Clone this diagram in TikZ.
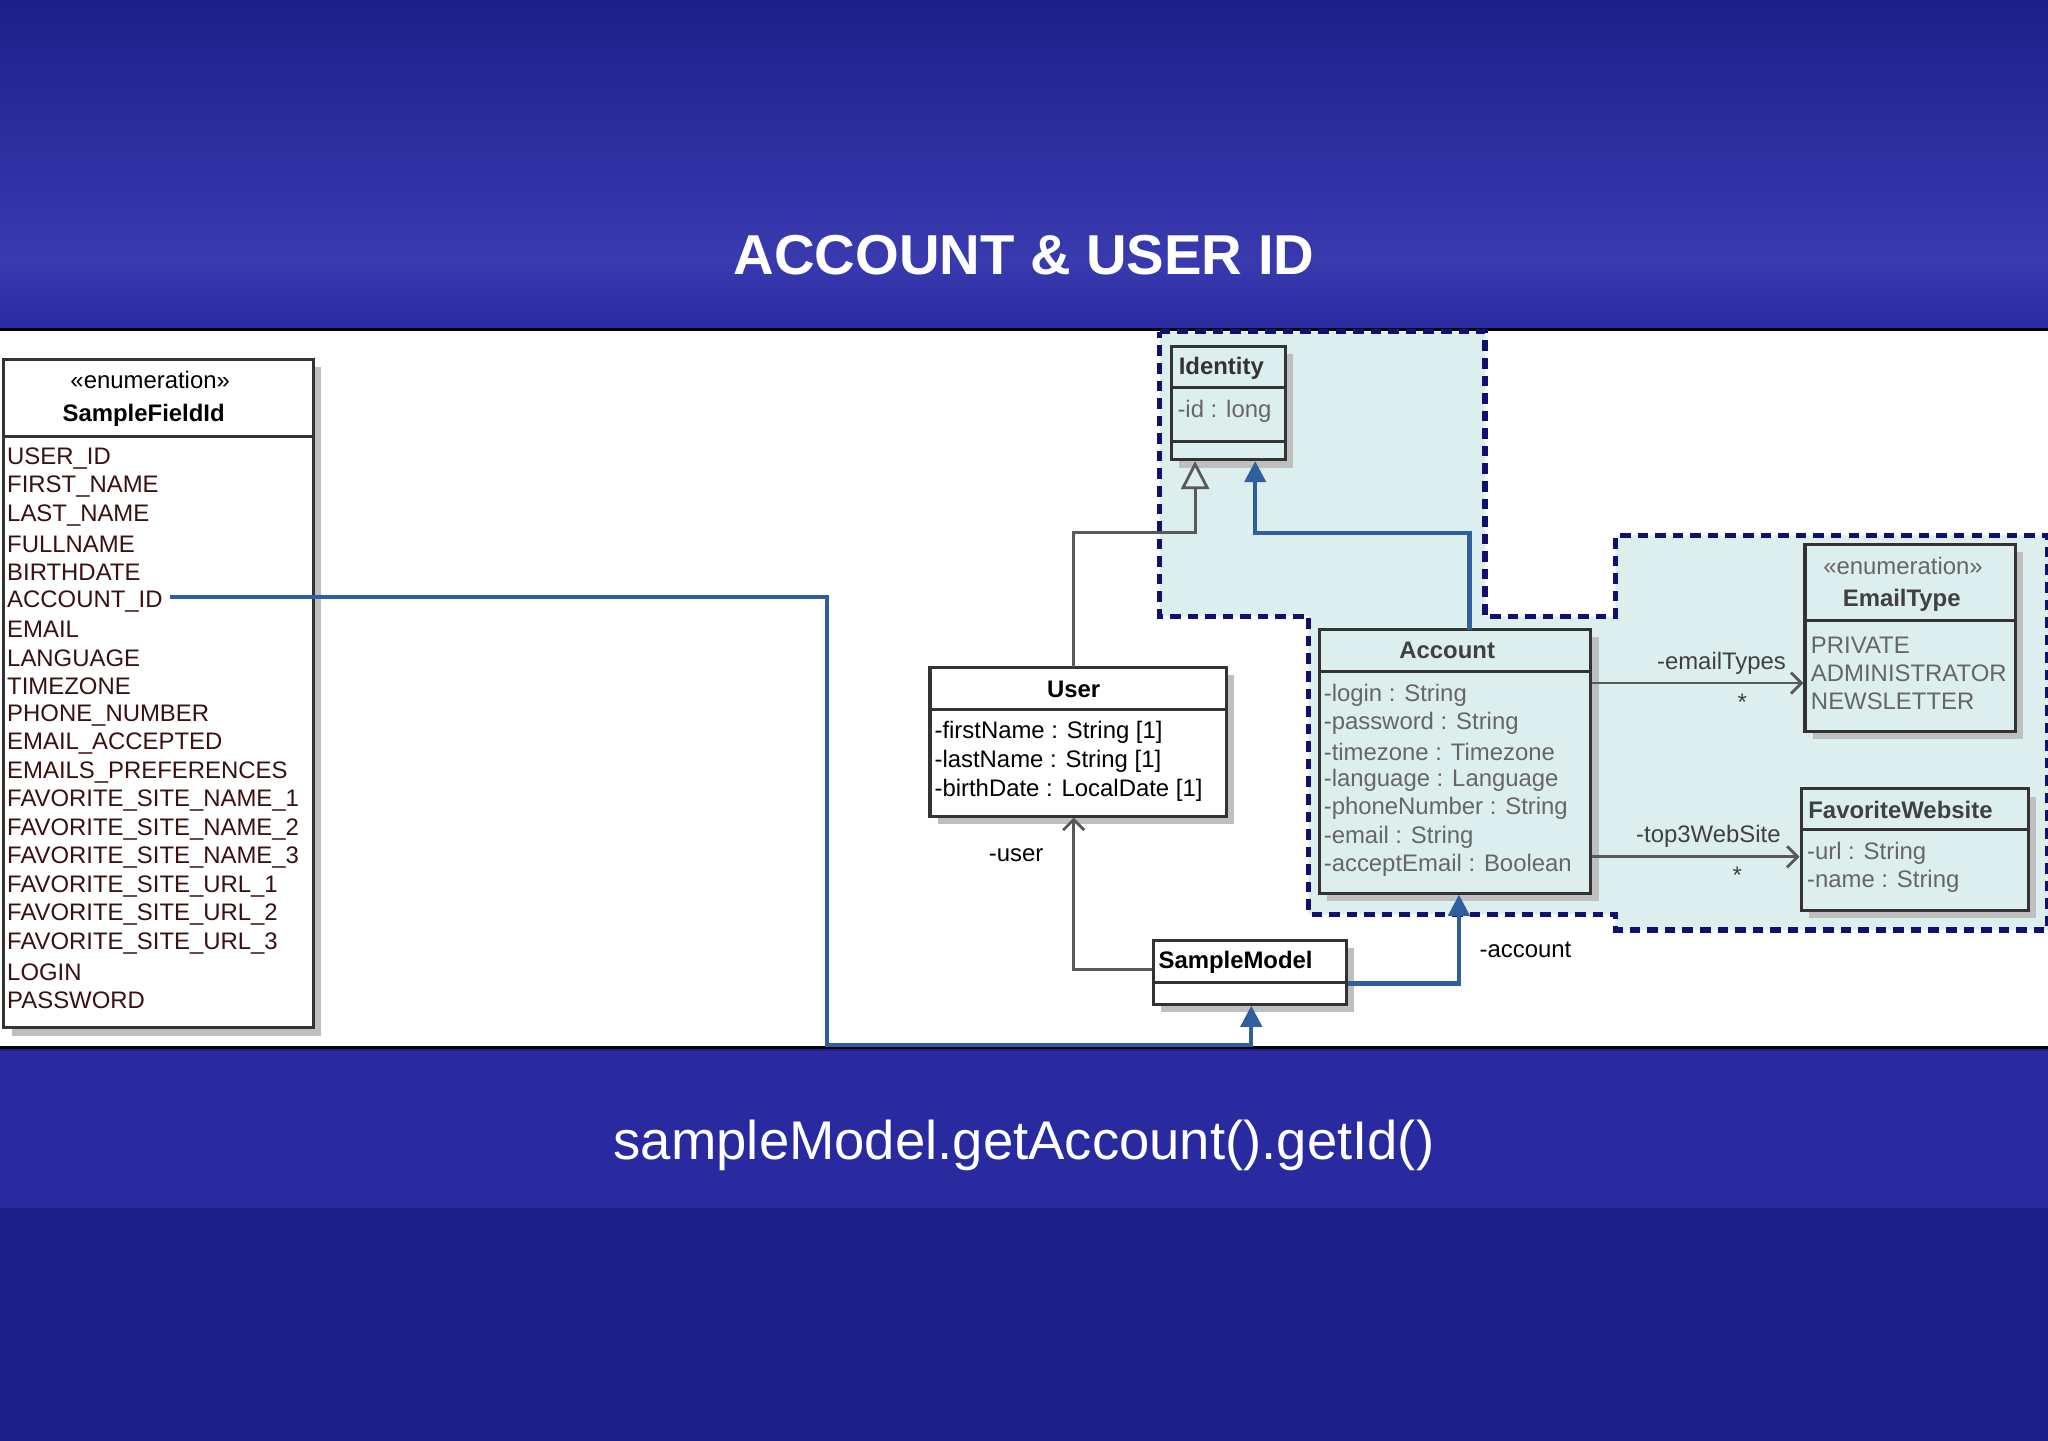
\documentclass[tikz,border=0pt]{standalone}
\usepackage{fontspec}
\setmainfont{Liberation Sans}
\usetikzlibrary{fit,arrows.meta}
\definecolor{bgA}{HTML}{3A3AB0}
\definecolor{bgB}{HTML}{1E1E8A}
\definecolor{bandc}{HTML}{2A2AA0}
\definecolor{teal}{HTML}{DCEEEE}
\definecolor{navy}{HTML}{101070}
\definecolor{lnk}{HTML}{2F5F9F}
\definecolor{txt}{HTML}{3A1010}
\tikzset{
  box/.style={draw=black!80,line width=0.9pt,inner sep=0pt},
  shd/.style={fill=black!25,draw=none},
  t/.style={font=\fontsize{6.8}{7}\selectfont,text=txt,inner sep=0pt},
  hd/.style={font=\bfseries\fontsize{6.8}{7}\selectfont,inner sep=0pt},
  blue/.style={draw=lnk,line width=1.2pt,-{Triangle[length=6pt,width=6pt]}},
  gry/.style={draw=black!65,line width=0.8pt},
}
\begin{document}
\begin{tikzpicture}[x=0.01306cm,y=-0.01306cm]
\useasboundingbox (0,0) rectangle (1568,1103);

% background
\fill[bgB] (0,0) rectangle (1568,1103);
\shade[top color=bgB,bottom color=bgA] (0,0) rectangle (1568,200);
\shade[top color=bgA,bottom color=bandc] (0,200) rectangle (1568,252);
\fill[bandc] (0,805) rectangle (1568,925);
\node[text=white,font=\bfseries\fontsize{16}{18}\selectfont] (title) at (784,195) {ACCOUNT \& USER ID};
\node[text=white,font=\fontsize{15.5}{18}\selectfont] (sub) at (784,877) {sampleModel.getAccount().getId()};

% panel
\fill[white] (0,252) rectangle (1568,802);
\draw[black,line width=0.8pt] (0,252) -- (1568,252);
\draw[black,line width=0.8pt] (0,802) -- (1568,802);

% package region
\draw[navy,fill=teal,line width=1.5pt,dash pattern=on 3pt off 2pt]
  (888,254) -- (1137,254) -- (1137,472) -- (1237,472) -- (1237,410) -- (1568,410)
  -- (1568,712) -- (1237,712) -- (1237,700) -- (1002,700) -- (1002,472) -- (888,472) -- cycle;

% shadows
\fill[shd] (9,281) rectangle (246,793);
\fill[shd] (903,271) rectangle (990,358);
\fill[shd] (718,517) rectangle (945,631);
\fill[shd] (1016,488) rectangle (1224,690);
\fill[shd] (1388,423) rectangle (1549,566);
\fill[shd] (1385,610) rectangle (1559,703);
\fill[shd] (889,726) rectangle (1037,775);

% SampleFieldId
\node[box,fill=white,fit={(3,275)(240,787)}] (sfi) {};
\draw[box] (3,334) -- (240,334);
\node[t,text=black] at (115,291) {«enumeration»};
\node[hd] at (110,318) {SampleFieldId};
\foreach \s [count=\i from 0] in {USER\_ID,FIRST\_NAME,LAST\_NAME,FULLNAME,BIRTHDATE,
  ACCOUNT\_ID,EMAIL,LANGUAGE,TIMEZONE,PHONE\_NUMBER,EMAIL\_ACCEPTED,EMAILS\_PREFERENCES,
  FAVORITE\_SITE\_NAME\_1,FAVORITE\_SITE\_NAME\_2,FAVORITE\_SITE\_NAME\_3,
  FAVORITE\_SITE\_URL\_1,FAVORITE\_SITE\_URL\_2,FAVORITE\_SITE\_URL\_3,LOGIN,PASSWORD}
  \node[t,anchor=west] (f\i) at (5,351+21.84*\i) {\s};

% Identity
\node[box,fill=teal,fit={(897,265)(984,352)}] (idn) {};
\draw[box] (897,297) -- (984,297);
\draw[box] (897,338) -- (984,338);
\node[hd,anchor=west,text=black!80] at (902,282) {Identity};
\node[t,anchor=west,text=black!60] at (901,315) {-id : long};

% User
\node[box,fill=white,fit={(712,511)(939,625)}] (usr) {};
\draw[box] (712,543) -- (939,543);
\node[hd] at (822,528) {User};
\foreach \s [count=\i from 0] in {-firstName : String [1],-lastName : String [1],-birthDate : LocalDate [1]}
  \node[t,anchor=west,text=black] at (715,561+22*\i) {\s};

% Account
\node[box,fill=teal,fit={(1010,482)(1218,684)}] (acc) {};
\draw[box] (1010,514) -- (1218,514);
\node[hd,text=black!75] at (1108,498) {Account};
\foreach \s [count=\i from 0] in {-login : String,-password : String,-timezone : Timezone,
  -language : Language,-phoneNumber : String,-email : String,-acceptEmail : Boolean}
  \node[t,anchor=west,text=black!60] at (1013,532+21.8*\i) {\s};

% EmailType
\node[box,fill=teal,fit={(1382,417)(1543,560)}] (emt) {};
\draw[box] (1382,475) -- (1543,475);
\node[t,text=black!60] at (1457,433) {«enumeration»};
\node[hd,text=black!75] at (1456,460) {EmailType};
\foreach \s [count=\i from 0] in {PRIVATE,ADMINISTRATOR,NEWSLETTER}
  \node[t,anchor=west,text=black!60] at (1386,494+21.5*\i) {\s};

% FavoriteWebsite
\node[box,fill=teal,fit={(1379,604)(1553,697)}] (fav) {};
\draw[box] (1379,635) -- (1553,635);
\node[hd,anchor=west,text=black!75] at (1384,620) {FavoriteWebsite};
\node[t,anchor=west,text=black!60] at (1383,653) {-url : String};
\node[t,anchor=west,text=black!60] at (1383,675) {-name : String};

% SampleModel
\node[box,fill=white,fit={(883,720)(1031,769)}] (smp) {};
\draw[box] (883,752) -- (1031,752);
\node[hd] at (946,737) {SampleModel};

% links
\draw[blue] (130,457) -- (633,457) -- (633,800) -- (958,800) -- (958,770);
\draw[blue] (smp.east|-0,753) -- (1117,753) -- (1117,685);
\draw[blue] (1125,482) -- (1125,408) -- (961,408) -- (961,353);
\draw[gry,-{Triangle[open,length=8pt,width=8pt]}] (822,511) -- (822,408) -- (915,408) -- (915,353);
\draw[gry,-{Straight Barb[length=3pt,width=6pt]}] (smp.west|-0,742) -- (822,742) -- (822,626);
\draw[gry,-{Straight Barb[length=3pt,width=6pt]}] (acc.east|-0,523) -- (emt.west|-0,523);
\draw[gry,-{Straight Barb[length=3pt,width=6pt]}] (acc.east|-0,656) -- (fav.west|-0,656);
\node[t,text=black] at (778,655) {-user};
\node[t,text=black] at (1168,727) {-account};
\node[t,text=black!75] at (1318,508) {-emailTypes};
\node[t,text=black!75] at (1334,538) {*};
\node[t,text=black!75] at (1308,640) {-top3WebSite};
\node[t,text=black!75] at (1330,670) {*};
\end{tikzpicture}
\end{document}
